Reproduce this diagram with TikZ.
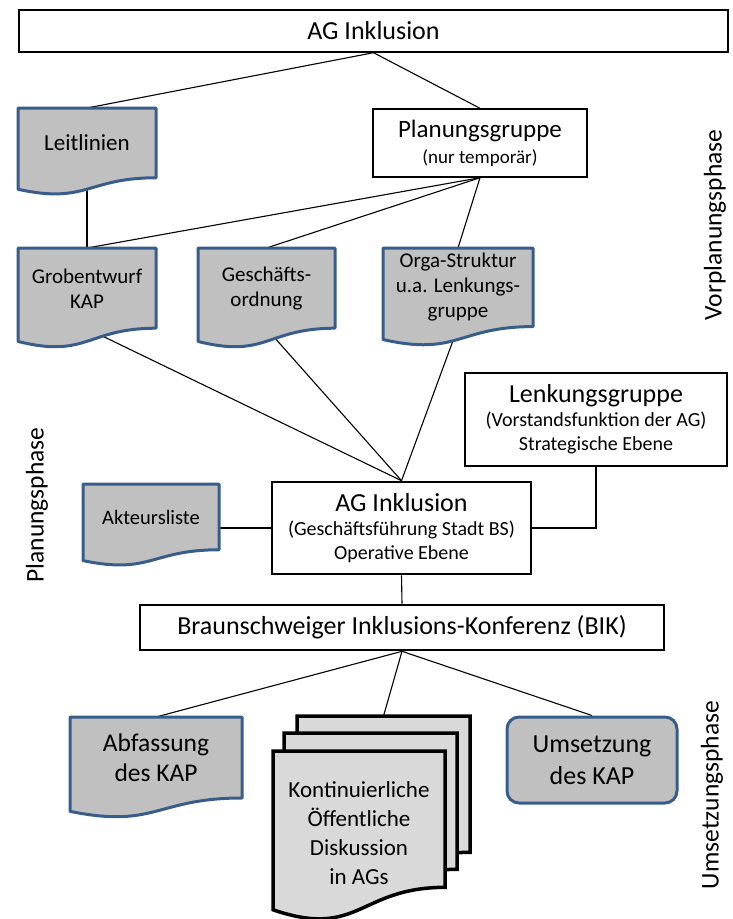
\documentclass[tikz,border=0pt]{standalone}
\usepackage{fontspec}
\setmainfont{Carlito}
\usetikzlibrary{calc}
\pgfdeclarelayer{bg}\pgfdeclarelayer{shp}
\pgfsetlayers{bg,shp,main}
\definecolor{docblue}{RGB}{56,93,138}
\definecolor{docgray}{RGB}{192,192,192}
\definecolor{stackgray}{RGB}{217,217,217}
\tikzset{
 conn/.style={draw=black, line width=1.1pt},
 thinbox/.style={draw=black, line width=1.4pt, fill=white, inner sep=0pt, align=center},
 thickbox/.style={draw=black, line width=2.6pt, fill=white, inner sep=0pt, align=center},
 bluedoc/.style={draw=docblue, fill=docgray, line width=3pt, line join=round},
 stackdoc/.style={draw=black, fill=stackgray, line width=3.5pt},
 doctxt/.style={inner sep=0pt, align=center, anchor=north},
 phase/.style={rotate=90, font=\fontsize{25.5}{30}\selectfont},
 fA/.style={font=\fontsize{26}{31}\selectfont},
 fB/.style={font=\fontsize{21}{25}\selectfont},
}
% name, cx, top, w, h, path style, node options, text
\newcommand{\mkdoc}[8]{%
  \pgfmathsetmacro{\dl}{#2-#4/2}\pgfmathsetmacro{\dr}{#2+#4/2}%
  \pgfmathsetmacro{\dbr}{#3+0.802*#5}\pgfmathsetmacro{\dbl}{#3+0.934*#5}%
  \pgfmathsetmacro{\dcc}{#3+1.1075*#5}%
  \begin{pgfonlayer}{shp}
  \path[#6] (\dl,#3) -- (\dr,#3) -- (\dr,\dbr) .. controls (#2,\dbr) and (#2,\dcc) .. (\dl,\dbl) -- cycle;
  \end{pgfonlayer}
  \node[doctxt, minimum width=#4pt, minimum height={0.802*#5pt}, #7] (#1) at (#2,#3) {#8};
}
\begin{document}
\begin{tikzpicture}[x=1pt,y=-1pt]
\useasboundingbox (0,0) rectangle (732,919);
% top
\node[thinbox, minimum width=709pt, minimum height=42pt, fA] (top) at (373.5,31) {AG Inklusion};
\node[thinbox, minimum width=214pt, minimum height=68pt, font=\fontsize{19}{26}\selectfont] (plan) at (480,143)
  {{\fontsize{25}{28}\selectfont Planungsgruppe}\\(nur temporär)};
% documents
\mkdoc{leit}{87}{108}{138}{87}{bluedoc}{font=\fontsize{23}{27}\selectfont}{Leitlinien}
\mkdoc{grob}{87}{248}{138}{100}{bluedoc}{fB}{Grobentwurf\\KAP}
\mkdoc{gesch}{266.5}{248}{137}{100}{bluedoc}{fB}{Geschäfts-\\ordnung}
\mkdoc{orga}{458}{248}{150}{98}{bluedoc}{fB}{Orga-Struktur\\u.a. Lenkungs-\\gruppe}
\mkdoc{akt}{151}{484}{136}{82}{bluedoc}{font=\fontsize{20.5}{24}\selectfont}{Akteursliste}
\mkdoc{abf}{156}{717}{172}{101}{bluedoc}{font=\fontsize{25.5}{30}\selectfont}{Abfassung\\des KAP}
% stack
\mkdoc{kback}{383.5}{716}{173}{170}{stackdoc}{}{}
\mkdoc{kmid}{370.5}{733}{173}{170}{stackdoc}{}{}
\mkdoc{kfront}{359}{751}{172}{170}{stackdoc}{}{}
\node[align=center, inner sep=0pt, font=\fontsize{23}{29}\selectfont] (kont) at (359,833)
  {Kontinuierliche\\Öffentliche\\Diskussion\\in AGs};
% right boxes
\node[thickbox, minimum width=262pt, minimum height=93pt, font=\fontsize{20}{24}\selectfont] (lenk) at (596,419.5)
  {{\fontsize{26}{28}\selectfont Lenkungsgruppe}\\(Vorstandsfunktion der AG)\\Strategische Ebene};
\node[thickbox, minimum width=259pt, minimum height=92pt, font=\fontsize{20}{24}\selectfont] (agm) at (401.5,528)
  {{\fontsize{26}{28}\selectfont AG Inklusion}\\(Geschäftsführung Stadt BS)\\Operative Ebene};
\node[thickbox, minimum width=524pt, minimum height=45pt, fA] (bik) at (402,627.5)
  {Braunschweiger Inklusions-Konferenz (BIK)};
\node[draw=docblue, fill=docgray, line width=3pt, rounded corners=12pt, minimum width=170pt,
  minimum height=86pt, align=center, inner sep=0pt, font=\fontsize{26}{32}\selectfont] (ums) at (592,760)
  {Umsetzung\\des KAP};
% phase labels
\node[phase] (vor) at (715,225) {Vorplanungsphase};
\node[phase] (planph) at (37,505) {Planungsphase};
\node[phase] (umsph) at (712,795) {Umsetzungsphase};
% connectors
\begin{pgfonlayer}{bg}
\draw[conn] (top.south) -- (leit.north);
\draw[conn] (top.south) -- (plan.north);
\draw[conn] (leit.south) -- (grob.north);
\draw[conn] (plan.south) -- (grob.north);
\draw[conn] (plan.south) -- (gesch.north);
\draw[conn] (plan.south) -- (orga.north);
\draw[conn] (grob.south) -- (agm.north);
\draw[conn] (gesch.south) -- (agm.north);
\draw[conn] (orga.south) -- (agm.north);
\draw[conn, line width=2.6pt] (lenk.south) |- (agm.east);
\draw[conn] (agm.west) -- (agm.west -| akt.east);
\draw[conn] (agm.south) -- (bik.north);
\draw[conn] (bik.south) -- (abf.north);
\draw[conn] (bik.south) -- (kback.north);
\draw[conn] (bik.south) -- (ums.north);
\end{pgfonlayer}
\end{tikzpicture}
\end{document}
